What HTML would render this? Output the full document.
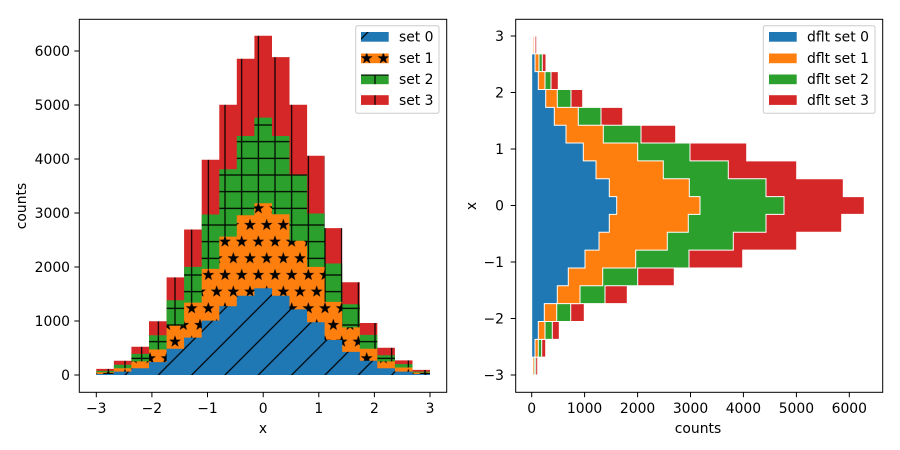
<!DOCTYPE html>
<html><head><meta charset="utf-8"><style>
html,body{margin:0;padding:0;background:#fff;}
svg{display:block;font-family:"DejaVu Sans","Liberation Sans",sans-serif;}
</style></head><body>
<svg width="900" height="450" viewBox="0 0 900 450" xmlns="http://www.w3.org/2000/svg">
<defs>
<pattern id="h0" patternUnits="userSpaceOnUse" width="33.333" height="33.333" x="0" y="0">
<rect width="33.333" height="33.333" fill="#1f77b4"/>
<path d="M-4,37.33 L37.33,-4 M-4,4 L4,-4 M29.33,37.33 L37.33,29.33" stroke="#000" stroke-width="1.2"/>
</pattern>
<pattern id="h1" patternUnits="userSpaceOnUse" width="16.667" height="33.333" x="0" y="0">
<rect width="16.667" height="33.333" fill="#ff7f0e"/>
<g fill="#000">
<polygon points="8.33,2 9.8,6.3 14.3,6.4 10.7,9.1 12,13.4 8.33,10.8 4.7,13.4 6,9.1 2.4,6.4 6.9,6.3"/>
<polygon transform="translate(-8.333,16.667)" points="8.33,2 9.8,6.3 14.3,6.4 10.7,9.1 12,13.4 8.33,10.8 4.7,13.4 6,9.1 2.4,6.4 6.9,6.3"/>
<polygon transform="translate(8.333,16.667)" points="8.33,2 9.8,6.3 14.3,6.4 10.7,9.1 12,13.4 8.33,10.8 4.7,13.4 6,9.1 2.4,6.4 6.9,6.3"/>
</g>
</pattern>
<pattern id="h2" patternUnits="userSpaceOnUse" width="16.667" height="16.667" x="0" y="0">
<rect width="16.667" height="16.667" fill="#2ca02c"/>
<path d="M8.33,0 V16.667 M0,8.33 H16.667" stroke="#000" stroke-width="1.2"/>
</pattern>
<pattern id="h3" patternUnits="userSpaceOnUse" width="16.667" height="16.667" x="0" y="0">
<rect width="16.667" height="16.667" fill="#d62728"/>
<path d="M8.33,0 V16.667" stroke="#000" stroke-width="1.2"/>
</pattern>
</defs>

<path fill="url(#h3)" d="M96.3,375V368.9H113.9V360.7H131.4V346.8H149V321.3H166.6V277.4H184.1V229.5H201.7V159.8H219.3V104.7H236.8V58.8H254.4V35.7H272V57.1H289.5V104.7H307.1V155.7H324.6V228.1H342.2V282.2H359.8V323H377.3V347.8H394.9V360.4H412.5V369.9H430V375z"/>
<path fill="url(#h2)" d="M96.3,375V370.9H113.9V364.8H131.4V353.9H149V335.2H166.6V300.2H184.1V266.9H201.7V214.5H219.3V169.3H236.8V136H254.4V117.6H272V136H289.5V174.4H307.1V213.5H324.6V263.5H342.2V304.3H359.8V334.9H377.3V355.3H394.9V364.1H412.5V371.6H430V375z"/>
<path fill="url(#h1)" d="M96.3,375V372.3H113.9V368.2H131.4V361.4H149V349.5H166.6V325.7H184.1V302.6H201.7V268.9H219.3V236.6H236.8V215.2H254.4V203.3H272V214.2H289.5V240.7H307.1V266.9H324.6V301.9H342.2V327.4H359.8V348.8H377.3V361.4H394.9V367.5H412.5V372.6H430V375z"/>
<path fill="url(#h0)" d="M96.3,375V374H113.9V371.6H131.4V368.2H149V362.1H166.6V348.8H184.1V337.6H201.7V320.6H219.3V306.3H236.8V295.8H254.4V288.3H272V295.8H289.5V309.4H307.1V322.3H324.6V340H342.2V351.9H359.8V360.7H377.3V368.2H394.9V371.6H412.5V374H430V375z"/>

<g stroke="#fff" stroke-width="1">
<path fill="#d62728" d="M531.7,375H537.7V357.16H545.7V339.32H559.3V321.47H584.3V303.63H627.3V285.79H674.3V267.95H742.7V250.11H796.7V232.26H841.7V214.42H864.3V196.58H843.3V178.74H796.7V160.89H746.7V143.05H675.7V125.21H622.7V107.37H582.7V89.53H558.3V71.68H546V53.84H536.7V36H531.7z"/>
<path fill="#2ca02c" d="M531.7,375H535.7V357.16H541.7V339.32H552.3V321.47H570.7V303.63H605V285.79H637.7V267.95H689V250.11H733.3V232.26H766V214.42H784V196.58H766V178.74H728.3V160.89H690V143.05H641V125.21H601V107.37H571V89.53H551V71.68H542.3V53.84H535V36H531.7z"/>
<path fill="#ff7f0e" d="M531.7,375H534.3V357.16H538.3V339.32H545V321.47H556.7V303.63H580V285.79H602.7V267.95H635.7V250.11H667.3V232.26H688.3V214.42H700V196.58H689.3V178.74H663.3V160.89H637.7V143.05H603.3V125.21H578.3V107.37H557.3V89.53H545V71.68H539V53.84H534V36H531.7z"/>
<path fill="#1f77b4" d="M531.7,375H532.7V357.16H535V339.32H538.3V321.47H544.3V303.63H557.3V285.79H568.3V267.95H585V250.11H599V232.26H609.3V214.42H616.7V196.58H609.3V178.74H596V160.89H583.3V143.05H566V125.21H554.3V107.37H545.7V89.53H538.3V71.68H535V53.84H532.7V36H531.7z"/>
</g>

<rect x="79.3" y="19.3" width="367.4" height="373" fill="none" stroke="#000" stroke-width="1"/>
<rect x="515.7" y="19.3" width="367" height="373" fill="none" stroke="#000" stroke-width="1"/>
<g font-size="13.9" fill="#000">
<g text-anchor="middle">
<text x="96.3" y="413">−3</text><text x="151.9" y="413">−2</text><text x="207.5" y="413">−1</text><text x="263.2" y="413">0</text><text x="318.8" y="413">1</text><text x="374.4" y="413">2</text><text x="430" y="413">3</text>
<text x="263" y="433">x</text>
<text x="531.7" y="413">0</text><text x="584.6" y="413">1000</text><text x="637.6" y="413">2000</text><text x="690.5" y="413">3000</text><text x="743.4" y="413">4000</text><text x="796.4" y="413">5000</text><text x="849.3" y="413">6000</text>
<text x="698" y="433">counts</text>
</g>
<g text-anchor="end">
<text x="70" y="380">0</text><text x="70" y="326">1000</text><text x="70" y="272">2000</text><text x="70" y="218">3000</text><text x="70" y="164">4000</text><text x="70" y="110">5000</text><text x="70" y="56">6000</text>
<text x="504" y="41">3</text><text x="504" y="97.5">2</text><text x="504" y="154">1</text><text x="504" y="210.5">0</text><text x="504" y="267">−1</text><text x="504" y="323.5">−2</text><text x="504" y="380">−3</text>
</g>
<text transform="translate(26,206) rotate(-90)" text-anchor="middle">counts</text>
<text transform="translate(476,206) rotate(-90)" text-anchor="middle">x</text>
</g>
<g stroke="#000" stroke-width="1">
<path d="M96.3,392.3v5M151.9,392.3v5M207.5,392.3v5M263.2,392.3v5M318.8,392.3v5M374.4,392.3v5M430,392.3v5"/>
<path d="M79.3,375h-5M79.3,321h-5M79.3,267h-5M79.3,213h-5M79.3,159h-5M79.3,105h-5M79.3,51h-5"/>
<path d="M531.7,392.3v5M584.6,392.3v5M637.6,392.3v5M690.5,392.3v5M743.4,392.3v5M796.4,392.3v5M849.3,392.3v5"/>
<path d="M515.7,36h-5M515.7,92.5h-5M515.7,149h-5M515.7,205.5h-5M515.7,262h-5M515.7,318.5h-5M515.7,375h-5"/>
</g>
<rect x="355.7" y="25.7" width="83.3" height="87.6" rx="2" fill="#fff" fill-opacity="0.8" stroke="#ccc"/>
<rect x="361" y="32" width="27.7" height="9.7" fill="url(#h0)"/>
<rect x="361" y="53.5" width="27.7" height="9.7" fill="url(#h1)"/>
<rect x="361" y="74.5" width="27.7" height="9.7" fill="url(#h2)"/>
<rect x="361" y="95.2" width="27.7" height="9.7" fill="url(#h3)"/>
<g font-size="13.9"><text x="399" y="41.7">set 0</text><text x="399" y="63.2">set 1</text><text x="399" y="84.2">set 2</text><text x="399" y="104.9">set 3</text></g>
<rect x="763.3" y="25.7" width="111.7" height="87.6" rx="2" fill="#fff" fill-opacity="0.8" stroke="#ccc"/>
<rect x="769" y="32" width="27.7" height="9.7" fill="#1f77b4"/>
<rect x="769" y="53.5" width="27.7" height="9.7" fill="#ff7f0e"/>
<rect x="769" y="74.5" width="27.7" height="9.7" fill="#2ca02c"/>
<rect x="769" y="95.2" width="27.7" height="9.7" fill="#d62728"/>
<g font-size="13.9"><text x="807" y="41.7">dflt set 0</text><text x="807" y="63.2">dflt set 1</text><text x="807" y="84.2">dflt set 2</text><text x="807" y="104.9">dflt set 3</text></g>
</svg>
</body></html>
